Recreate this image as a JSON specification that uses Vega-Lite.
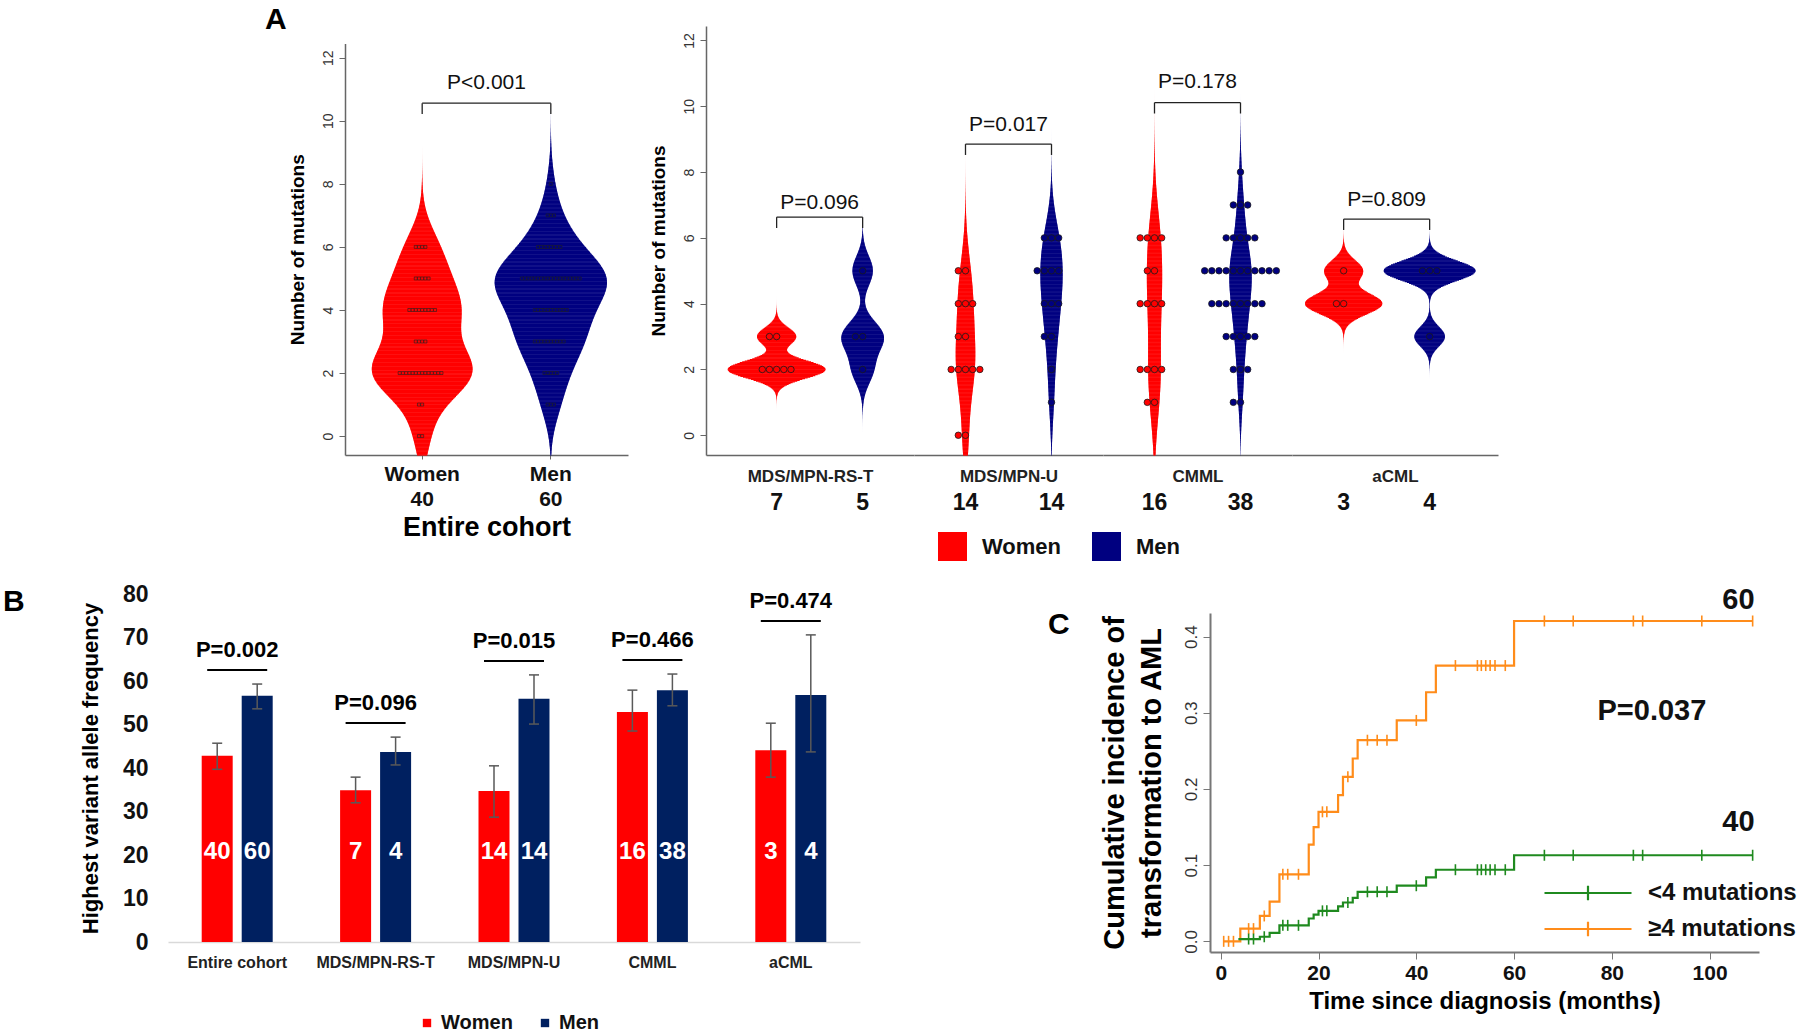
{
  "$schema": "https://vega.github.io/schema/vega-lite/v6.json",
  "background": "white",
  "padding": {"left": 3, "top": 5, "right": 5, "bottom": 5},
  "config": {
    "font": "Liberation Sans",
    "view": {"stroke": null},
    "axis": {"grid": false, "domainColor": "#666", "tickColor": "#666", "labelColor": "#222", "titleColor": "#000"},
    "title": {"fontSize": 30, "fontWeight": "bold", "anchor": "start", "frame": "group", "color": "#000", "offset": 0}
  },
  "datasets": {
    "patients": [
      {"diagnosis": "MDS/MPN-RS-T", "sex": "Women", "mutations": 2},
      {"diagnosis": "MDS/MPN-RS-T", "sex": "Women", "mutations": 2},
      {"diagnosis": "MDS/MPN-RS-T", "sex": "Women", "mutations": 2},
      {"diagnosis": "MDS/MPN-RS-T", "sex": "Women", "mutations": 2},
      {"diagnosis": "MDS/MPN-RS-T", "sex": "Women", "mutations": 2},
      {"diagnosis": "MDS/MPN-RS-T", "sex": "Women", "mutations": 3},
      {"diagnosis": "MDS/MPN-RS-T", "sex": "Women", "mutations": 3},
      {"diagnosis": "MDS/MPN-RS-T", "sex": "Men", "mutations": 2},
      {"diagnosis": "MDS/MPN-RS-T", "sex": "Men", "mutations": 3},
      {"diagnosis": "MDS/MPN-RS-T", "sex": "Men", "mutations": 3},
      {"diagnosis": "MDS/MPN-RS-T", "sex": "Men", "mutations": 5},
      {"diagnosis": "MDS/MPN-U", "sex": "Women", "mutations": 0},
      {"diagnosis": "MDS/MPN-U", "sex": "Women", "mutations": 0},
      {"diagnosis": "MDS/MPN-U", "sex": "Women", "mutations": 2},
      {"diagnosis": "MDS/MPN-U", "sex": "Women", "mutations": 2},
      {"diagnosis": "MDS/MPN-U", "sex": "Women", "mutations": 2},
      {"diagnosis": "MDS/MPN-U", "sex": "Women", "mutations": 2},
      {"diagnosis": "MDS/MPN-U", "sex": "Women", "mutations": 2},
      {"diagnosis": "MDS/MPN-U", "sex": "Women", "mutations": 3},
      {"diagnosis": "MDS/MPN-U", "sex": "Women", "mutations": 3},
      {"diagnosis": "MDS/MPN-U", "sex": "Women", "mutations": 4},
      {"diagnosis": "MDS/MPN-U", "sex": "Women", "mutations": 4},
      {"diagnosis": "MDS/MPN-U", "sex": "Women", "mutations": 4},
      {"diagnosis": "MDS/MPN-U", "sex": "Women", "mutations": 5},
      {"diagnosis": "MDS/MPN-U", "sex": "Women", "mutations": 5},
      {"diagnosis": "MDS/MPN-U", "sex": "Men", "mutations": 1},
      {"diagnosis": "MDS/MPN-U", "sex": "Men", "mutations": 2},
      {"diagnosis": "MDS/MPN-U", "sex": "Men", "mutations": 3},
      {"diagnosis": "MDS/MPN-U", "sex": "Men", "mutations": 3},
      {"diagnosis": "MDS/MPN-U", "sex": "Men", "mutations": 4},
      {"diagnosis": "MDS/MPN-U", "sex": "Men", "mutations": 4},
      {"diagnosis": "MDS/MPN-U", "sex": "Men", "mutations": 4},
      {"diagnosis": "MDS/MPN-U", "sex": "Men", "mutations": 5},
      {"diagnosis": "MDS/MPN-U", "sex": "Men", "mutations": 5},
      {"diagnosis": "MDS/MPN-U", "sex": "Men", "mutations": 5},
      {"diagnosis": "MDS/MPN-U", "sex": "Men", "mutations": 5},
      {"diagnosis": "MDS/MPN-U", "sex": "Men", "mutations": 6},
      {"diagnosis": "MDS/MPN-U", "sex": "Men", "mutations": 6},
      {"diagnosis": "MDS/MPN-U", "sex": "Men", "mutations": 6},
      {"diagnosis": "CMML", "sex": "Women", "mutations": 1},
      {"diagnosis": "CMML", "sex": "Women", "mutations": 1},
      {"diagnosis": "CMML", "sex": "Women", "mutations": 2},
      {"diagnosis": "CMML", "sex": "Women", "mutations": 2},
      {"diagnosis": "CMML", "sex": "Women", "mutations": 2},
      {"diagnosis": "CMML", "sex": "Women", "mutations": 2},
      {"diagnosis": "CMML", "sex": "Women", "mutations": 4},
      {"diagnosis": "CMML", "sex": "Women", "mutations": 4},
      {"diagnosis": "CMML", "sex": "Women", "mutations": 4},
      {"diagnosis": "CMML", "sex": "Women", "mutations": 4},
      {"diagnosis": "CMML", "sex": "Women", "mutations": 5},
      {"diagnosis": "CMML", "sex": "Women", "mutations": 5},
      {"diagnosis": "CMML", "sex": "Women", "mutations": 6},
      {"diagnosis": "CMML", "sex": "Women", "mutations": 6},
      {"diagnosis": "CMML", "sex": "Women", "mutations": 6},
      {"diagnosis": "CMML", "sex": "Women", "mutations": 6},
      {"diagnosis": "CMML", "sex": "Men", "mutations": 1},
      {"diagnosis": "CMML", "sex": "Men", "mutations": 1},
      {"diagnosis": "CMML", "sex": "Men", "mutations": 2},
      {"diagnosis": "CMML", "sex": "Men", "mutations": 2},
      {"diagnosis": "CMML", "sex": "Men", "mutations": 2},
      {"diagnosis": "CMML", "sex": "Men", "mutations": 3},
      {"diagnosis": "CMML", "sex": "Men", "mutations": 3},
      {"diagnosis": "CMML", "sex": "Men", "mutations": 3},
      {"diagnosis": "CMML", "sex": "Men", "mutations": 3},
      {"diagnosis": "CMML", "sex": "Men", "mutations": 3},
      {"diagnosis": "CMML", "sex": "Men", "mutations": 4},
      {"diagnosis": "CMML", "sex": "Men", "mutations": 4},
      {"diagnosis": "CMML", "sex": "Men", "mutations": 4},
      {"diagnosis": "CMML", "sex": "Men", "mutations": 4},
      {"diagnosis": "CMML", "sex": "Men", "mutations": 4},
      {"diagnosis": "CMML", "sex": "Men", "mutations": 4},
      {"diagnosis": "CMML", "sex": "Men", "mutations": 4},
      {"diagnosis": "CMML", "sex": "Men", "mutations": 4},
      {"diagnosis": "CMML", "sex": "Men", "mutations": 5},
      {"diagnosis": "CMML", "sex": "Men", "mutations": 5},
      {"diagnosis": "CMML", "sex": "Men", "mutations": 5},
      {"diagnosis": "CMML", "sex": "Men", "mutations": 5},
      {"diagnosis": "CMML", "sex": "Men", "mutations": 5},
      {"diagnosis": "CMML", "sex": "Men", "mutations": 5},
      {"diagnosis": "CMML", "sex": "Men", "mutations": 5},
      {"diagnosis": "CMML", "sex": "Men", "mutations": 5},
      {"diagnosis": "CMML", "sex": "Men", "mutations": 5},
      {"diagnosis": "CMML", "sex": "Men", "mutations": 5},
      {"diagnosis": "CMML", "sex": "Men", "mutations": 5},
      {"diagnosis": "CMML", "sex": "Men", "mutations": 6},
      {"diagnosis": "CMML", "sex": "Men", "mutations": 6},
      {"diagnosis": "CMML", "sex": "Men", "mutations": 6},
      {"diagnosis": "CMML", "sex": "Men", "mutations": 6},
      {"diagnosis": "CMML", "sex": "Men", "mutations": 6},
      {"diagnosis": "CMML", "sex": "Men", "mutations": 7},
      {"diagnosis": "CMML", "sex": "Men", "mutations": 7},
      {"diagnosis": "CMML", "sex": "Men", "mutations": 7},
      {"diagnosis": "CMML", "sex": "Men", "mutations": 8},
      {"diagnosis": "aCML", "sex": "Women", "mutations": 4},
      {"diagnosis": "aCML", "sex": "Women", "mutations": 4},
      {"diagnosis": "aCML", "sex": "Women", "mutations": 5},
      {"diagnosis": "aCML", "sex": "Men", "mutations": 3},
      {"diagnosis": "aCML", "sex": "Men", "mutations": 5},
      {"diagnosis": "aCML", "sex": "Men", "mutations": 5},
      {"diagnosis": "aCML", "sex": "Men", "mutations": 5}
    ],
    "vaf": [
      {"diagnosis": "Entire cohort", "sex": "Women", "vaf": 42.8, "lo": 39.7, "hi": 45.7, "n": 40},
      {"diagnosis": "Entire cohort", "sex": "Men", "vaf": 56.6, "lo": 53.6, "hi": 59.3, "n": 60},
      {"diagnosis": "MDS/MPN-RS-T", "sex": "Women", "vaf": 34.9, "lo": 32.0, "hi": 37.9, "n": 7},
      {"diagnosis": "MDS/MPN-RS-T", "sex": "Men", "vaf": 43.7, "lo": 40.7, "hi": 47.1, "n": 4},
      {"diagnosis": "MDS/MPN-U", "sex": "Women", "vaf": 34.7, "lo": 28.7, "hi": 40.5, "n": 14},
      {"diagnosis": "MDS/MPN-U", "sex": "Men", "vaf": 55.9, "lo": 50.1, "hi": 61.4, "n": 14},
      {"diagnosis": "CMML", "sex": "Women", "vaf": 52.9, "lo": 48.5, "hi": 57.9, "n": 16},
      {"diagnosis": "CMML", "sex": "Men", "vaf": 57.9, "lo": 54.3, "hi": 61.6, "n": 38},
      {"diagnosis": "aCML", "sex": "Women", "vaf": 44.1, "lo": 37.9, "hi": 50.3, "n": 3},
      {"diagnosis": "aCML", "sex": "Men", "vaf": 56.8, "lo": 43.7, "hi": 70.6, "n": 4}
    ],
    "pB": [
      {"diagnosis": "Entire cohort", "p": "P=0.002"},
      {"diagnosis": "MDS/MPN-RS-T", "p": "P=0.096"},
      {"diagnosis": "MDS/MPN-U", "p": "P=0.015"},
      {"diagnosis": "CMML", "p": "P=0.466"},
      {"diagnosis": "aCML", "p": "P=0.474"}
    ],
    "cif": [
      {"group": "≥4 mutations", "time": 0.5, "ci": 0},
      {"group": "≥4 mutations", "time": 4, "ci": 0.0167},
      {"group": "≥4 mutations", "time": 8, "ci": 0.0333},
      {"group": "≥4 mutations", "time": 10, "ci": 0.052},
      {"group": "≥4 mutations", "time": 12, "ci": 0.088},
      {"group": "≥4 mutations", "time": 18, "ci": 0.127},
      {"group": "≥4 mutations", "time": 19, "ci": 0.15},
      {"group": "≥4 mutations", "time": 20, "ci": 0.17},
      {"group": "≥4 mutations", "time": 24, "ci": 0.192},
      {"group": "≥4 mutations", "time": 25, "ci": 0.216},
      {"group": "≥4 mutations", "time": 27, "ci": 0.24},
      {"group": "≥4 mutations", "time": 28, "ci": 0.264},
      {"group": "≥4 mutations", "time": 36, "ci": 0.29},
      {"group": "≥4 mutations", "time": 42, "ci": 0.327},
      {"group": "≥4 mutations", "time": 44, "ci": 0.362},
      {"group": "≥4 mutations", "time": 60, "ci": 0.4205},
      {"group": "≥4 mutations", "time": 108.8, "ci": 0.4205},
      {"group": "<4 mutations", "time": 3.6, "ci": 0.003},
      {"group": "<4 mutations", "time": 8, "ci": 0.006},
      {"group": "<4 mutations", "time": 10, "ci": 0.011},
      {"group": "<4 mutations", "time": 12, "ci": 0.021},
      {"group": "<4 mutations", "time": 18, "ci": 0.03},
      {"group": "<4 mutations", "time": 19, "ci": 0.035},
      {"group": "<4 mutations", "time": 20, "ci": 0.04},
      {"group": "<4 mutations", "time": 24, "ci": 0.046},
      {"group": "<4 mutations", "time": 25, "ci": 0.051},
      {"group": "<4 mutations", "time": 27, "ci": 0.057},
      {"group": "<4 mutations", "time": 28, "ci": 0.065},
      {"group": "<4 mutations", "time": 36, "ci": 0.073},
      {"group": "<4 mutations", "time": 42, "ci": 0.084},
      {"group": "<4 mutations", "time": 44, "ci": 0.094},
      {"group": "<4 mutations", "time": 60, "ci": 0.113},
      {"group": "<4 mutations", "time": 108.8, "ci": 0.113}
    ],
    "censor": [
      {"group": "≥4 mutations", "time": 0.6, "ci": 0},
      {"group": "≥4 mutations", "time": 1.6, "ci": 0},
      {"group": "≥4 mutations", "time": 2.6, "ci": 0},
      {"group": "≥4 mutations", "time": 5.7, "ci": 0.0167},
      {"group": "≥4 mutations", "time": 6.7, "ci": 0.0167},
      {"group": "≥4 mutations", "time": 8.9, "ci": 0.0333},
      {"group": "≥4 mutations", "time": 12.7, "ci": 0.088},
      {"group": "≥4 mutations", "time": 13.7, "ci": 0.088},
      {"group": "≥4 mutations", "time": 15.9, "ci": 0.088},
      {"group": "≥4 mutations", "time": 20.8, "ci": 0.17},
      {"group": "≥4 mutations", "time": 21.7, "ci": 0.17},
      {"group": "≥4 mutations", "time": 26, "ci": 0.216},
      {"group": "≥4 mutations", "time": 30, "ci": 0.264},
      {"group": "≥4 mutations", "time": 32, "ci": 0.264},
      {"group": "≥4 mutations", "time": 34, "ci": 0.264},
      {"group": "≥4 mutations", "time": 40, "ci": 0.29},
      {"group": "≥4 mutations", "time": 48, "ci": 0.362},
      {"group": "≥4 mutations", "time": 52.5, "ci": 0.362},
      {"group": "≥4 mutations", "time": 53.3, "ci": 0.362},
      {"group": "≥4 mutations", "time": 54.2, "ci": 0.362},
      {"group": "≥4 mutations", "time": 55.1, "ci": 0.362},
      {"group": "≥4 mutations", "time": 56.1, "ci": 0.362},
      {"group": "≥4 mutations", "time": 58.2, "ci": 0.362},
      {"group": "≥4 mutations", "time": 66.2, "ci": 0.4205},
      {"group": "≥4 mutations", "time": 72.1, "ci": 0.4205},
      {"group": "≥4 mutations", "time": 84.4, "ci": 0.4205},
      {"group": "≥4 mutations", "time": 86.3, "ci": 0.4205},
      {"group": "≥4 mutations", "time": 98.4, "ci": 0.4205},
      {"group": "≥4 mutations", "time": 108.8, "ci": 0.4205},
      {"group": "<4 mutations", "time": 5.7, "ci": 0.003},
      {"group": "<4 mutations", "time": 6.7, "ci": 0.003},
      {"group": "<4 mutations", "time": 8.9, "ci": 0.006},
      {"group": "<4 mutations", "time": 12.7, "ci": 0.021},
      {"group": "<4 mutations", "time": 13.7, "ci": 0.021},
      {"group": "<4 mutations", "time": 15.9, "ci": 0.021},
      {"group": "<4 mutations", "time": 20.8, "ci": 0.04},
      {"group": "<4 mutations", "time": 21.7, "ci": 0.04},
      {"group": "<4 mutations", "time": 26, "ci": 0.051},
      {"group": "<4 mutations", "time": 30, "ci": 0.065},
      {"group": "<4 mutations", "time": 32, "ci": 0.065},
      {"group": "<4 mutations", "time": 34, "ci": 0.065},
      {"group": "<4 mutations", "time": 40, "ci": 0.073},
      {"group": "<4 mutations", "time": 48, "ci": 0.094},
      {"group": "<4 mutations", "time": 52.5, "ci": 0.094},
      {"group": "<4 mutations", "time": 53.3, "ci": 0.094},
      {"group": "<4 mutations", "time": 54.2, "ci": 0.094},
      {"group": "<4 mutations", "time": 55.1, "ci": 0.094},
      {"group": "<4 mutations", "time": 56.1, "ci": 0.094},
      {"group": "<4 mutations", "time": 58.2, "ci": 0.094},
      {"group": "<4 mutations", "time": 66.2, "ci": 0.113},
      {"group": "<4 mutations", "time": 72.1, "ci": 0.113},
      {"group": "<4 mutations", "time": 84.4, "ci": 0.113},
      {"group": "<4 mutations", "time": 86.3, "ci": 0.113},
      {"group": "<4 mutations", "time": 98.4, "ci": 0.113},
      {"group": "<4 mutations", "time": 108.8, "ci": 0.113}
    ]
  },
  "vconcat": [
    {
      "hconcat": [
        {"width": 99, "height": 429, "data": {"values": []}, "mark": "point"},
        {
          "width": 283, "height": 429,
          "title": {"text": "A", "dx": -80, "dy": 13},
          "data": {"name": "patients"},
          "layer": [
            {
              "transform": [{"density": "mutations", "groupby": ["sex"], "extent": [-0.6, 12.5], "steps": 520, "as": ["value", "density"]}],
              "mark": {"type": "tick", "orient": "horizontal", "thickness": 1.3, "opacity": 1},
              "encoding": {
                "x": {"field": "sex", "type": "nominal", "scale": {"domain": ["Women", "Men"], "paddingInner": 0, "paddingOuter": 0.1},
                  "axis": {"title": "Entire cohort", "titleFontSize": 27, "titleFontWeight": "bold", "titlePadding": 5, "labelExpr": "datum.value == 'Women' ? ['Women','40'] : ['Men','60']", "labelFontSize": 21, "labelFontWeight": "bold", "labelColor": "#111", "labelLineHeight": 25, "labelPadding": 4, "tickSize": 4, "domainWidth": 1.5, "labelAngle": 0}},
                "y": {"field": "value", "type": "quantitative", "scale": {"domain": [-0.6, 12.45], "range": [429, 17.6], "nice": false, "zero": false},
                  "axis": {"title": "Number of mutations", "titleFontSize": 19, "titleFontWeight": "bold", "titlePadding": 14, "values": [0, 2, 4, 6, 8, 10, 12], "labelAngle": -90, "labelAlign": "center", "labelBaseline": "bottom", "labelFontSize": 14, "labelColor": "#333", "labelPadding": 4, "tickSize": 6, "domainWidth": 1.5}},
                "size": {"field": "density", "type": "quantitative", "scale": {"domain": [0, 1], "range": [0, 450], "zero": true}, "legend": null},
                "color": {"field": "sex", "type": "nominal", "scale": {"domain": ["Women", "Men"], "range": ["#ff0000", "#000080"]},
                  "legend": {"orient": "none", "legendX": 770, "legendY": 506, "direction": "horizontal", "title": null, "symbolType": "square", "symbolSize": 841, "symbolStrokeWidth": 0, "symbolOpacity": 1, "labelFontSize": 22, "labelFontWeight": "bold", "labelColor": "#111", "labelOffset": 15, "columnPadding": 30}}
              }
            },
            {
              "transform": [{"window": [{"op": "row_number", "as": "k"}], "groupby": ["sex", "mutations"]}],
              "mark": {"type": "square", "size": 9, "stroke": "#222", "strokeWidth": 0.6, "opacity": 1},
              "encoding": {
                "x": {"field": "sex", "type": "nominal"},
                "xOffset": {"field": "k", "type": "ordinal", "scale": {"domain": [40,38,36,34,32,30,28,26,24,22,20,18,16,14,12,10,8,6,4,2,1,3,5,7,9,11,13,15,17,19,21,23,25,27,29,31,33,35,37,39,41], "paddingInner": 0, "paddingOuter": 0}},
                "y": {"field": "mutations", "type": "quantitative"},
                "color": {"field": "sex", "type": "nominal"}
              }
            },
            {
              "data": {"values": [{"p": "P<0.001"}]},
              "layer": [
                {"mark": {"type": "rule", "color": "#222", "strokeWidth": 1.3}, "encoding": {"x": {"datum": "Women", "bandPosition": 0.5}, "x2": {"datum": "Men", "bandPosition": 0.5}, "y": {"datum": 10.56}}},
                {"mark": {"type": "rule", "color": "#222", "strokeWidth": 1.3}, "encoding": {"x": {"datum": "Women"}, "y": {"datum": 10.56}, "y2": {"datum": 10.22}}},
                {"mark": {"type": "rule", "color": "#222", "strokeWidth": 1.3}, "encoding": {"x": {"datum": "Men"}, "y": {"datum": 10.56}, "y2": {"datum": 10.22}}},
                {"mark": {"type": "text", "fontSize": 21, "color": "#111", "baseline": "middle"}, "encoding": {"x": {"datum": "Men", "bandPosition": 0}, "y": {"datum": 11.21}, "text": {"field": "p"}}}
              ]
            }
          ]
        },
        {
          "hconcat": [
            {
              "width": 208, "height": 429,
              "data": {"name": "patients"},
              "transform": [{"filter": {"field": "diagnosis", "equal": "MDS/MPN-RS-T"}}],
              "layer": [
                {
                  "transform": [{"density": "mutations", "groupby": ["sex"], "extent": [-0.6, 11], "steps": 480, "as": ["value", "density"]}],
                  "mark": {"type": "tick", "orient": "horizontal", "thickness": 1.3, "opacity": 1},
                  "encoding": {
                    "x": {"field": "sex", "type": "nominal", "scale": {"domain": ["Women", "Men"], "paddingInner": 0, "paddingOuter": 0.209, "align": 0.768},
                      "axis": {"title": "MDS/MPN-RS-T", "titleFontSize": 17, "titleFontWeight": "bold", "titleColor": "#222", "titleY": 13, "titleBaseline": "top", "labelExpr": "datum.value == 'Women' ? '7' : '5'", "labelFontSize": 23, "labelFontWeight": "bold", "labelColor": "#111", "labelPadding": 36, "ticks": false, "labelAngle": 0, "domainWidth": 1.5}},
                    "y": {"field": "value", "type": "quantitative", "scale": {"domain": [-0.6, 12.44], "nice": false, "zero": false},
                      "axis": {"title": "Number of mutations", "titleFontSize": 19, "titleFontWeight": "bold", "titlePadding": 14, "values": [0, 2, 4, 6, 8, 10, 12], "labelAngle": -90, "labelAlign": "center", "labelBaseline": "bottom", "labelFontSize": 14, "labelColor": "#333", "labelPadding": 4, "tickSize": 6, "domainWidth": 1.5}},
                    "size": {"field": "density", "type": "quantitative", "scale": {"domain": [0, 1], "range": [0, 92], "zero": true}, "legend": null},
                    "color": {"field": "sex", "type": "nominal", "scale": {"domain": ["Women", "Men"], "range": ["#ff0000", "#000080"]},
                      "legend": {"orient": "none", "legendX": 770, "legendY": 506, "direction": "horizontal", "title": null, "symbolType": "square", "symbolSize": 841, "symbolStrokeWidth": 0, "symbolOpacity": 1, "labelFontSize": 22, "labelFontWeight": "bold", "labelColor": "#111", "labelOffset": 15, "columnPadding": 30}}
                  }
                },
                {
                  "transform": [{"window": [{"op": "row_number", "as": "k"}], "groupby": ["sex", "mutations"]}],
                  "mark": {"type": "circle", "size": 42, "stroke": "#1a1a1a", "strokeWidth": 0.8, "opacity": 1},
                  "encoding": {
                    "x": {"field": "sex", "type": "nominal"},
                    "xOffset": {"field": "k", "type": "ordinal", "scale": {"domain": [12,10,8,6,4,2,1,3,5,7,9,11,13], "paddingInner": 0, "paddingOuter": 0}},
                    "y": {"field": "mutations", "type": "quantitative"},
                    "color": {"field": "sex", "type": "nominal"}
                  }
                },
                {
                  "data": {"values": [{"p": "P=0.096"}]},
                  "layer": [
                    {"mark": {"type": "rule", "color": "#222", "strokeWidth": 1.3}, "encoding": {"x": {"datum": "Women", "bandPosition": 0.5}, "x2": {"datum": "Men", "bandPosition": 0.5}, "y": {"datum": 6.63}}},
                    {"mark": {"type": "rule", "color": "#222", "strokeWidth": 1.3}, "encoding": {"x": {"datum": "Women"}, "y": {"datum": 6.63}, "y2": {"datum": 6.3}}},
                    {"mark": {"type": "rule", "color": "#222", "strokeWidth": 1.3}, "encoding": {"x": {"datum": "Men"}, "y": {"datum": 6.63}, "y2": {"datum": 6.3}}},
                    {"mark": {"type": "text", "fontSize": 21, "color": "#111", "baseline": "middle"}, "encoding": {"x": {"datum": "Men", "bandPosition": 0}, "y": {"datum": 7.06}, "text": {"field": "p"}}}
                  ]
                }
              ]
            },
            {
              "width": 189, "height": 429,
              "data": {"name": "patients"},
              "transform": [{"filter": {"field": "diagnosis", "equal": "MDS/MPN-U"}}],
              "layer": [
                {
                  "transform": [{"density": "mutations", "groupby": ["sex"], "extent": [-0.6, 11], "steps": 480, "as": ["value", "density"]}],
                  "mark": {"type": "tick", "orient": "horizontal", "thickness": 1.3, "opacity": 1},
                  "encoding": {
                    "x": {"field": "sex", "type": "nominal", "scale": {"domain": ["Women", "Men"], "paddingInner": 0, "paddingOuter": 0.0988, "align": 0.5},
                      "axis": {"title": "MDS/MPN-U", "titleFontSize": 17, "titleFontWeight": "bold", "titleColor": "#222", "titleY": 13, "titleBaseline": "top", "labelExpr": "datum.value == 'Women' ? '14' : '14'", "labelFontSize": 23, "labelFontWeight": "bold", "labelColor": "#111", "labelPadding": 36, "ticks": false, "labelAngle": 0, "domainWidth": 1.5}},
                    "y": {"field": "value", "type": "quantitative", "scale": {"domain": [-0.6, 12.44], "nice": false, "zero": false}, "axis": null},
                    "size": {"field": "density", "type": "quantitative", "scale": {"domain": [0, 1], "range": [0, 92], "zero": true}, "legend": null},
                    "color": {"field": "sex", "type": "nominal", "scale": {"domain": ["Women", "Men"], "range": ["#ff0000", "#000080"]},
                      "legend": {"orient": "none", "legendX": 770, "legendY": 506, "direction": "horizontal", "title": null, "symbolType": "square", "symbolSize": 841, "symbolStrokeWidth": 0, "symbolOpacity": 1, "labelFontSize": 22, "labelFontWeight": "bold", "labelColor": "#111", "labelOffset": 15, "columnPadding": 30}}
                  }
                },
                {
                  "transform": [{"window": [{"op": "row_number", "as": "k"}], "groupby": ["sex", "mutations"]}],
                  "mark": {"type": "circle", "size": 42, "stroke": "#1a1a1a", "strokeWidth": 0.8, "opacity": 1},
                  "encoding": {
                    "x": {"field": "sex", "type": "nominal"},
                    "xOffset": {"field": "k", "type": "ordinal", "scale": {"domain": [12,10,8,6,4,2,1,3,5,7,9,11,13], "paddingInner": 0, "paddingOuter": 0}},
                    "y": {"field": "mutations", "type": "quantitative"},
                    "color": {"field": "sex", "type": "nominal"}
                  }
                },
                {
                  "data": {"values": [{"p": "P=0.017"}]},
                  "layer": [
                    {"mark": {"type": "rule", "color": "#222", "strokeWidth": 1.3}, "encoding": {"x": {"datum": "Women", "bandPosition": 0.5}, "x2": {"datum": "Men", "bandPosition": 0.5}, "y": {"datum": 8.85}}},
                    {"mark": {"type": "rule", "color": "#222", "strokeWidth": 1.3}, "encoding": {"x": {"datum": "Women"}, "y": {"datum": 8.85}, "y2": {"datum": 8.52}}},
                    {"mark": {"type": "rule", "color": "#222", "strokeWidth": 1.3}, "encoding": {"x": {"datum": "Men"}, "y": {"datum": 8.85}, "y2": {"datum": 8.52}}},
                    {"mark": {"type": "text", "fontSize": 21, "color": "#111", "baseline": "middle"}, "encoding": {"x": {"datum": "Men", "bandPosition": 0}, "y": {"datum": 9.43}, "text": {"field": "p"}}}
                  ]
                }
              ]
            },
            {
              "width": 189, "height": 429,
              "data": {"name": "patients"},
              "transform": [{"filter": {"field": "diagnosis", "equal": "CMML"}}],
              "layer": [
                {
                  "transform": [{"density": "mutations", "groupby": ["sex"], "extent": [-0.6, 11], "steps": 480, "as": ["value", "density"]}],
                  "mark": {"type": "tick", "orient": "horizontal", "thickness": 1.3, "opacity": 1},
                  "encoding": {
                    "x": {"field": "sex", "type": "nominal", "scale": {"domain": ["Women", "Men"], "paddingInner": 0, "paddingOuter": 0.0988, "align": 0.5},
                      "axis": {"title": "CMML", "titleFontSize": 17, "titleFontWeight": "bold", "titleColor": "#222", "titleY": 13, "titleBaseline": "top", "labelExpr": "datum.value == 'Women' ? '16' : '38'", "labelFontSize": 23, "labelFontWeight": "bold", "labelColor": "#111", "labelPadding": 36, "ticks": false, "labelAngle": 0, "domainWidth": 1.5}},
                    "y": {"field": "value", "type": "quantitative", "scale": {"domain": [-0.6, 12.44], "nice": false, "zero": false}, "axis": null},
                    "size": {"field": "density", "type": "quantitative", "scale": {"domain": [0, 1], "range": [0, 92], "zero": true}, "legend": null},
                    "color": {"field": "sex", "type": "nominal", "scale": {"domain": ["Women", "Men"], "range": ["#ff0000", "#000080"]},
                      "legend": {"orient": "none", "legendX": 770, "legendY": 506, "direction": "horizontal", "title": null, "symbolType": "square", "symbolSize": 841, "symbolStrokeWidth": 0, "symbolOpacity": 1, "labelFontSize": 22, "labelFontWeight": "bold", "labelColor": "#111", "labelOffset": 15, "columnPadding": 30}}
                  }
                },
                {
                  "transform": [{"window": [{"op": "row_number", "as": "k"}], "groupby": ["sex", "mutations"]}],
                  "mark": {"type": "circle", "size": 42, "stroke": "#1a1a1a", "strokeWidth": 0.8, "opacity": 1},
                  "encoding": {
                    "x": {"field": "sex", "type": "nominal"},
                    "xOffset": {"field": "k", "type": "ordinal", "scale": {"domain": [12,10,8,6,4,2,1,3,5,7,9,11,13], "paddingInner": 0, "paddingOuter": 0}},
                    "y": {"field": "mutations", "type": "quantitative"},
                    "color": {"field": "sex", "type": "nominal"}
                  }
                },
                {
                  "data": {"values": [{"p": "P=0.178"}]},
                  "layer": [
                    {"mark": {"type": "rule", "color": "#222", "strokeWidth": 1.3}, "encoding": {"x": {"datum": "Women", "bandPosition": 0.5}, "x2": {"datum": "Men", "bandPosition": 0.5}, "y": {"datum": 10.11}}},
                    {"mark": {"type": "rule", "color": "#222", "strokeWidth": 1.3}, "encoding": {"x": {"datum": "Women"}, "y": {"datum": 10.11}, "y2": {"datum": 9.78}}},
                    {"mark": {"type": "rule", "color": "#222", "strokeWidth": 1.3}, "encoding": {"x": {"datum": "Men"}, "y": {"datum": 10.11}, "y2": {"datum": 9.78}}},
                    {"mark": {"type": "text", "fontSize": 21, "color": "#111", "baseline": "middle"}, "encoding": {"x": {"datum": "Men", "bandPosition": 0}, "y": {"datum": 10.73}, "text": {"field": "p"}}}
                  ]
                }
              ]
            },
            {
              "width": 206, "height": 429,
              "data": {"name": "patients"},
              "transform": [{"filter": {"field": "diagnosis", "equal": "aCML"}}],
              "layer": [
                {
                  "transform": [{"density": "mutations", "groupby": ["sex"], "extent": [-0.6, 11], "steps": 480, "as": ["value", "density"]}],
                  "mark": {"type": "tick", "orient": "horizontal", "thickness": 1.3, "opacity": 1},
                  "encoding": {
                    "x": {"field": "sex", "type": "nominal", "scale": {"domain": ["Women", "Men"], "paddingInner": 0, "paddingOuter": 0.1977, "align": 0.254},
                      "axis": {"title": "aCML", "titleFontSize": 17, "titleFontWeight": "bold", "titleColor": "#222", "titleY": 13, "titleBaseline": "top", "labelExpr": "datum.value == 'Women' ? '3' : '4'", "labelFontSize": 23, "labelFontWeight": "bold", "labelColor": "#111", "labelPadding": 36, "ticks": false, "labelAngle": 0, "domainWidth": 1.5}},
                    "y": {"field": "value", "type": "quantitative", "scale": {"domain": [-0.6, 12.44], "nice": false, "zero": false}, "axis": null},
                    "size": {"field": "density", "type": "quantitative", "scale": {"domain": [0, 1], "range": [0, 92], "zero": true}, "legend": null},
                    "color": {"field": "sex", "type": "nominal", "scale": {"domain": ["Women", "Men"], "range": ["#ff0000", "#000080"]},
                      "legend": {"orient": "none", "legendX": 770, "legendY": 506, "direction": "horizontal", "title": null, "symbolType": "square", "symbolSize": 841, "symbolStrokeWidth": 0, "symbolOpacity": 1, "labelFontSize": 22, "labelFontWeight": "bold", "labelColor": "#111", "labelOffset": 15, "columnPadding": 30}}
                  }
                },
                {
                  "transform": [{"window": [{"op": "row_number", "as": "k"}], "groupby": ["sex", "mutations"]}],
                  "mark": {"type": "circle", "size": 42, "stroke": "#1a1a1a", "strokeWidth": 0.8, "opacity": 1},
                  "encoding": {
                    "x": {"field": "sex", "type": "nominal"},
                    "xOffset": {"field": "k", "type": "ordinal", "scale": {"domain": [12,10,8,6,4,2,1,3,5,7,9,11,13], "paddingInner": 0, "paddingOuter": 0}},
                    "y": {"field": "mutations", "type": "quantitative"},
                    "color": {"field": "sex", "type": "nominal"}
                  }
                },
                {
                  "data": {"values": [{"p": "P=0.809"}]},
                  "layer": [
                    {"mark": {"type": "rule", "color": "#222", "strokeWidth": 1.3}, "encoding": {"x": {"datum": "Women", "bandPosition": 0.5}, "x2": {"datum": "Men", "bandPosition": 0.5}, "y": {"datum": 6.57}}},
                    {"mark": {"type": "rule", "color": "#222", "strokeWidth": 1.3}, "encoding": {"x": {"datum": "Women"}, "y": {"datum": 6.57}, "y2": {"datum": 6.24}}},
                    {"mark": {"type": "rule", "color": "#222", "strokeWidth": 1.3}, "encoding": {"x": {"datum": "Men"}, "y": {"datum": 6.57}, "y2": {"datum": 6.24}}},
                    {"mark": {"type": "text", "fontSize": 21, "color": "#111", "baseline": "middle"}, "encoding": {"x": {"datum": "Men", "bandPosition": 0}, "y": {"datum": 7.15}, "text": {"field": "p"}}}
                  ]
                }
              ]
            }
          ],
          "spacing": 0,
          "bounds": "flush",
          "resolve": {"scale": {"size": "independent", "xOffset": "independent"}}
        }
      ],
      "spacing": 78,
      "bounds": "flush",
      "resolve": {"scale": {"size": "independent", "xOffset": "independent"}}
    },
    {
      "hconcat": [
        {
          "width": 692, "height": 348,
          "title": {"text": "B", "dx": -165, "dy": 38},
          "data": {"name": "vaf"},
          "layer": [
            {
              "mark": {"type": "bar"},
              "encoding": {
                "x": {"field": "diagnosis", "type": "nominal", "scale": {"domain": ["Entire cohort", "MDS/MPN-RS-T", "MDS/MPN-U", "CMML", "aCML"], "paddingInner": 0.487, "paddingOuter": 0.2435},
                  "axis": {"title": null, "labelFontSize": 16, "labelFontWeight": "bold", "labelColor": "#222", "ticks": false, "labelPadding": 12, "domainColor": "#d9d9d9", "domainWidth": 1.5, "labelAngle": 0}},
                "xOffset": {"field": "sex", "type": "nominal", "scale": {"domain": ["Women", "Men"], "paddingInner": 0.225, "paddingOuter": 0}},
                "y": {"field": "vaf", "type": "quantitative", "scale": {"domain": [0, 80], "nice": false},
                  "axis": {"title": "Highest variant allele frequency", "titleFontSize": 22, "titleFontWeight": "bold", "titlePadding": 20, "values": [0, 10, 20, 30, 40, 50, 60, 70, 80], "labelFontSize": 23, "labelFontWeight": "bold", "labelColor": "#111", "domain": false, "ticks": false, "labelPadding": 20}},
                "color": {"field": "sex", "type": "nominal", "scale": {"domain": ["Women", "Men"], "range": ["#ff0000", "#002060"]},
                  "legend": {"orient": "none", "legendX": 249, "legendY": 419, "direction": "horizontal", "title": null, "symbolType": "square", "symbolSize": 70, "symbolStrokeWidth": 0, "labelFontSize": 20, "labelFontWeight": "bold", "labelColor": "#111", "labelOffset": 4, "columnPadding": 22}}
              }
            },
            {
              "mark": {"type": "rule", "color": "#595959", "strokeWidth": 1.5},
              "encoding": {
                "x": {"field": "diagnosis", "type": "nominal"},
                "xOffset": {"field": "sex", "type": "nominal"},
                "y": {"field": "lo", "type": "quantitative"},
                "y2": {"field": "hi"}
              }
            },
            {
              "mark": {"type": "tick", "color": "#595959", "thickness": 1.5, "size": 10, "orient": "horizontal", "opacity": 1},
              "encoding": {
                "x": {"field": "diagnosis", "type": "nominal"},
                "xOffset": {"field": "sex", "type": "nominal"},
                "y": {"field": "lo", "type": "quantitative"}
              }
            },
            {
              "mark": {"type": "tick", "color": "#595959", "thickness": 1.5, "size": 10, "orient": "horizontal", "opacity": 1},
              "encoding": {
                "x": {"field": "diagnosis", "type": "nominal"},
                "xOffset": {"field": "sex", "type": "nominal"},
                "y": {"field": "hi", "type": "quantitative"}
              }
            },
            {
              "mark": {"type": "text", "color": "white", "fontSize": 24, "fontWeight": "bold", "baseline": "middle"},
              "encoding": {
                "x": {"field": "diagnosis", "type": "nominal"},
                "xOffset": {"field": "sex", "type": "nominal"},
                "y": {"datum": 20.7},
                "text": {"field": "n", "type": "quantitative"}
              }
            },
            {
              "transform": [
                {"aggregate": [{"op": "max", "field": "hi", "as": "top"}], "groupby": ["diagnosis"]},
                {"lookup": "diagnosis", "from": {"data": {"name": "pB"}, "key": "diagnosis", "fields": ["p"]}}
              ],
              "layer": [
                {
                  "mark": {"type": "tick", "color": "#000", "thickness": 2, "size": 60, "orient": "horizontal", "opacity": 1, "yOffset": -14},
                  "encoding": {"x": {"field": "diagnosis", "type": "nominal"}, "y": {"field": "top", "type": "quantitative"}}
                },
                {
                  "mark": {"type": "text", "fontSize": 22, "fontWeight": "bold", "color": "#000", "baseline": "middle", "yOffset": -34},
                  "encoding": {"x": {"field": "diagnosis", "type": "nominal"}, "y": {"field": "top", "type": "quantitative"}, "text": {"field": "p"}}
                }
              ]
            }
          ]
        },
        {
          "width": 549, "height": 358,
          "title": {"text": "C", "dx": -162, "dy": 58},
          "layer": [
            {
              "data": {"name": "cif"},
              "mark": {"type": "line", "interpolate": "step-after", "strokeWidth": 2.2},
              "encoding": {
                "x": {"field": "time", "type": "quantitative", "scale": {"domain": [-2.2, 110.1], "nice": false, "zero": false},
                  "axis": {"values": [0, 20, 40, 60, 80, 100], "title": "Time since diagnosis (months)", "titleFontSize": 24, "titleFontWeight": "bold", "titlePadding": 6, "labelFontSize": 21, "labelFontWeight": "bold", "labelColor": "#111", "tickSize": 7, "domainColor": "#777", "domainWidth": 2, "tickColor": "#777", "labelPadding": 3}},
                "y": {"field": "ci", "type": "quantitative", "scale": {"domain": [-0.014, 0.431], "range": [358, 19], "nice": false, "zero": false},
                  "axis": {"values": [0, 0.1, 0.2, 0.3, 0.4], "format": ".1f", "labelAngle": -90, "labelAlign": "center", "labelBaseline": "bottom", "labelFontSize": 17, "labelColor": "#333", "tickSize": 7, "labelPadding": 3, "domainColor": "#777", "domainWidth": 2, "tickColor": "#777", "title": ["Cumulative incidence of", "transformation to AML"], "titleFontSize": 29, "titleFontWeight": "bold", "titleLineHeight": 37, "titlePadding": 16}},
                "color": {"field": "group", "type": "nominal", "scale": {"domain": ["<4 mutations", "≥4 mutations"], "range": ["#1f8a1f", "#ff8c1a"]},
                  "legend": {"orient": "none", "legendX": 362, "legendY": 283, "direction": "vertical", "title": null, "symbolType": "M-3,0H3M0,-0.5V0.5", "symbolSize": 841, "symbolStrokeWidth": 2.2, "labelFontSize": 24, "labelFontWeight": "bold", "labelColor": "#111", "labelOffset": 44, "rowPadding": 8}}
              }
            },
            {
              "data": {"name": "censor"},
              "mark": {"type": "tick", "orient": "vertical", "size": 11, "thickness": 1.6, "opacity": 1},
              "encoding": {
                "x": {"field": "time", "type": "quantitative"},
                "y": {"field": "ci", "type": "quantitative"},
                "color": {"field": "group", "type": "nominal"}
              }
            },
            {
              "data": {"values": [{}]},
              "layer": [
                {"mark": {"type": "text", "fontSize": 29, "fontWeight": "bold", "align": "right", "baseline": "middle", "color": "#111"}, "encoding": {"x": {"datum": 109.2}, "y": {"datum": 0.448}, "text": {"value": "60"}}},
                {"mark": {"type": "text", "fontSize": 29, "fontWeight": "bold", "align": "right", "baseline": "middle", "color": "#111"}, "encoding": {"x": {"datum": 109.2}, "y": {"datum": 0.157}, "text": {"value": "40"}}},
                {"mark": {"type": "text", "fontSize": 29, "fontWeight": "bold", "align": "center", "baseline": "middle", "color": "#111"}, "encoding": {"x": {"datum": 88.2}, "y": {"datum": 0.303}, "text": {"value": "P=0.037"}}}
              ]
            }
          ]
        }
      ],
      "spacing": 350,
      "bounds": "flush",
      "resolve": {"scale": {"color": "independent"}}
    }
  ],
  "spacing": 568,
  "bounds": "flush",
  "resolve": {"scale": {"color": "independent"}}
}
